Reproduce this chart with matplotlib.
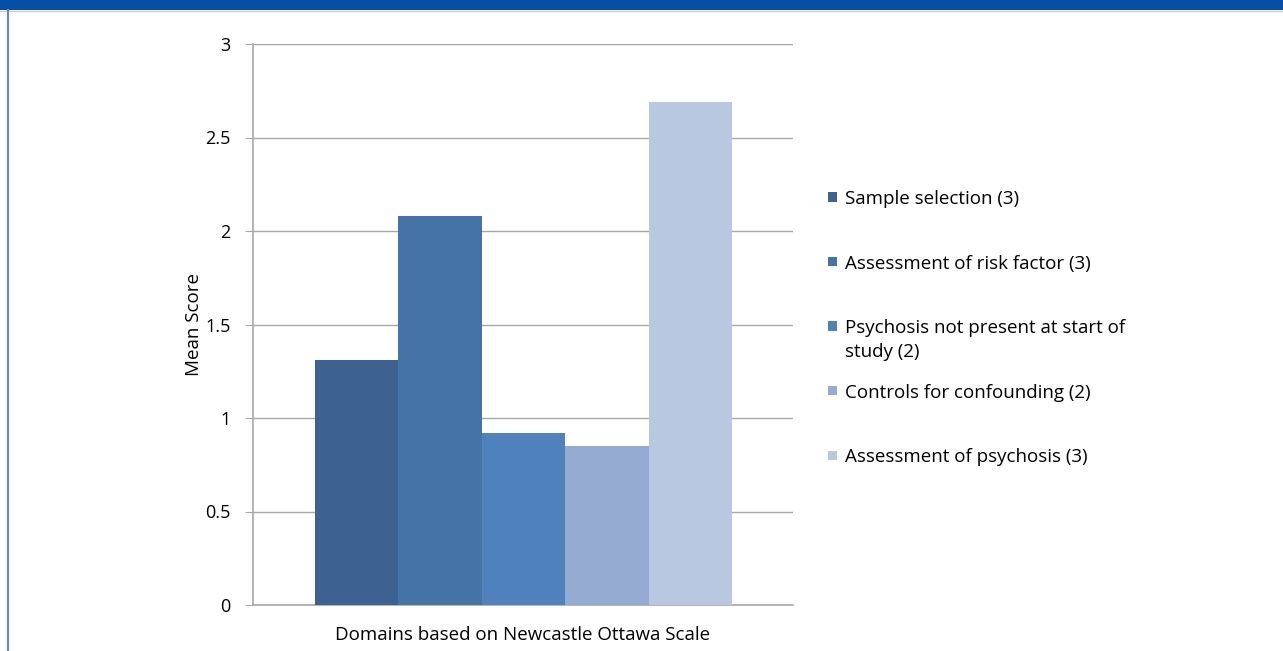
import matplotlib.pyplot as plt
from matplotlib.patches import Rectangle
import numpy as np

plt.rcParams['font.family'] = ['Open Sans', 'DejaVu Sans']

domains = ['Sample selection (3)',
           'Assessment of risk factor (3)',
           'Psychosis not present at start of\nstudy (2)',
           'Controls for confounding (2)',
           'Assessment of psychosis (3)']
scores = [1.31, 2.08, 0.92, 0.85, 2.69]
colors = ['#3d6191', '#4673a7', '#4f81bd', '#95abd3', '#b9c8e1']
yticks = [0, 0.5, 1, 1.5, 2, 2.5, 3]
ytick_labels = ['0', '0.5', '1', '1.5', '2', '2.5', '3']

W, H = 1283, 651
fig = plt.figure(figsize=(W / 100, H / 100), dpi=100)

# frame decorations of the original slide
fig.add_artist(Rectangle((0, 1 - 10 / H), 1, 10 / H, transform=fig.transFigure,
                         color='#0550a6', lw=0))
fig.add_artist(plt.Line2D([0, 1], [1 - 10.5 / H] * 2, transform=fig.transFigure,
                          color='#c8d0dc', lw=1))
fig.add_artist(plt.Line2D([7.5 / W] * 2, [0, 1 - 10 / H], transform=fig.transFigure,
                          color='#5b8ac8', lw=1.5))

ax = fig.add_axes([253 / W, 1 - 605 / H, (793 - 253) / W, (605 - 44) / H])
x = np.arange(len(scores))
ax.bar(x, scores, width=1.0, color=colors, zorder=3)

ax.set_xlim(-1.243, 5.231)
ax.set_ylim(0, 3)
ax.set_yticks(yticks)
ax.set_yticklabels(ytick_labels, fontsize=13)
ax.set_xticks([])
ax.grid(axis='y', color='#a8a8a8', lw=1)
ax.tick_params(axis='y', length=6, color='#a8a8a8', pad=10)
for s in ['top', 'right']:
    ax.spines[s].set_visible(False)
ax.spines['left'].set_color('#a8a8a8')
ax.spines['bottom'].set_color('#a8a8a8')
ax.spines['left'].set_linewidth(1.2)
ax.spines['bottom'].set_linewidth(1.2)
ax.set_ylabel('Mean Score', fontsize=13.5, labelpad=2)
ax.set_xlabel('Domains based on Newcastle Ottawa Scale', fontsize=13.5, labelpad=15)

# legend: Excel-style fixed slots, first line of each entry on the slot
slot0, step = 197, 64.5
for i, (lab, c) in enumerate(zip(domains, colors)):
    yc = slot0 + i * step
    fig.add_artist(Rectangle((828 / W, 1 - (yc + 4.5) / H), 9 / W, 9 / H,
                             transform=fig.transFigure, color=c, lw=0))
    fig.text(845 / W, 1 - (yc - 7) / H, lab, fontsize=13.5, va='top', ha='left',
             linespacing=1.45)

fig.savefig('out.png', dpi=100)
